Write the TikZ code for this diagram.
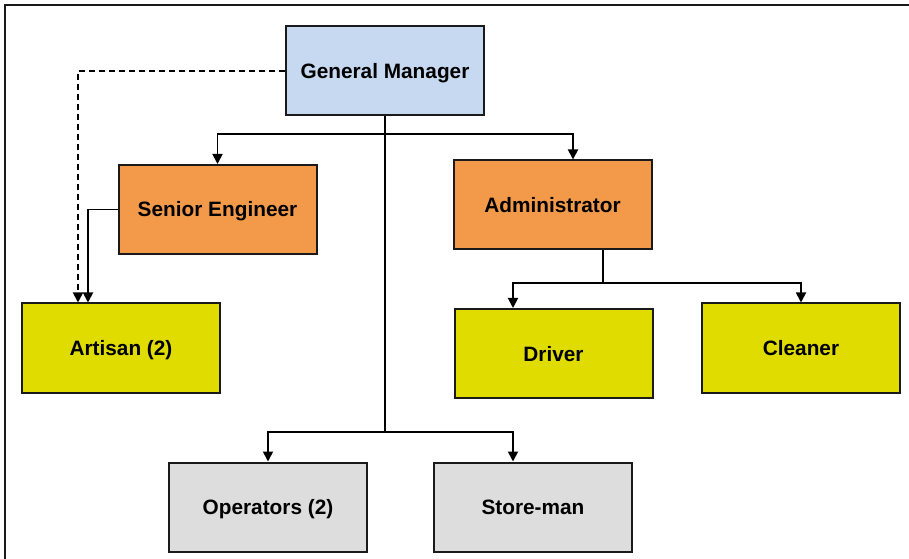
\documentclass[tikz,border=0pt]{standalone}
\usepackage{fontspec}
\setmainfont{Liberation Sans}
\usetikzlibrary{arrows.meta}
\definecolor{gmblue}{RGB}{198,217,241}
\definecolor{mgrorange}{RGB}{242,154,74}
\definecolor{staffyellow}{RGB}{224,220,0}
\definecolor{opsgrey}{RGB}{221,221,221}
\definecolor{edge}{RGB}{26,26,26}
\tikzset{
  post/.style={draw=edge, line width=2bp, rectangle, minimum width=198bp,
    minimum height=89bp, inner sep=0pt, text height=15bp, text depth=0pt,
    font=\fontsize{20.8bp}{25bp}\selectfont\bfseries},
  link/.style={draw=black, line width=1.8bp},
  arr/.style={link, -{Triangle[length=10bp,width=10bp]}},
  dotted link/.style={arr, dash pattern=on 6bp off 4bp}
}
\begin{document}
\begin{tikzpicture}[x=1bp,y=-1bp]
\useasboundingbox (0,0) rectangle (909,559);
% outer frame (top and left edges)
\draw[line width=1.8bp, draw=edge] (5,559) -- (5,5) -- (909,5);

% posts
\node[post, fill=gmblue]      (gm)  at (385,71)   {General Manager};
\node[post, fill=mgrorange]   (se)  at (217.5,209.5) {Senior Engineer};
\node[post, fill=mgrorange]   (adm) at (552.5,205) {Administrator};
\node[post, fill=staffyellow] (art) at (121,348)  {Artisan (2)};
\node[post, fill=staffyellow] (drv) at (553.5,353.5)  {Driver};
\node[post, fill=staffyellow] (cln) at (801,348)  {Cleaner};
\node[post, fill=opsgrey]     (ops) at (268,507)  {Operators (2)};
\node[post, fill=opsgrey]     (sto) at (533,507)  {Store-man};

% bus levels
\coordinate (topbus) at (385,134);
\coordinate (lowbus) at (385,432);
\coordinate (admbus) at (603,283);
\coordinate (admdrop) at (573,0);
\coordinate (admout) at (603,0);
\coordinate (drvin) at (513,0);
\coordinate (stoin) at (513,0);
\coordinate (sebend) at (88,0);
\coordinate (gmbend) at (78,0);

% General Manager spine
\draw[link] (gm.south) -- (lowbus);
\draw[arr] (topbus) -| (se.north);
\draw[arr] (topbus) -| (admdrop |- adm.north);
\draw[arr] (lowbus) -| (ops.north);
\draw[arr] (lowbus) -| (stoin |- sto.north);

% Administrator's staff
\draw[link] (admout |- adm.south) -- (admbus);
\draw[arr] (admbus) -| (drvin |- drv.north);
\draw[arr] (admbus) -| (cln.north);

% Artisans
\draw[arr] (se.west) -| (sebend |- art.north);
\draw[dotted link] (gm.west) -| (gmbend |- art.north);
\end{tikzpicture}
\end{document}
